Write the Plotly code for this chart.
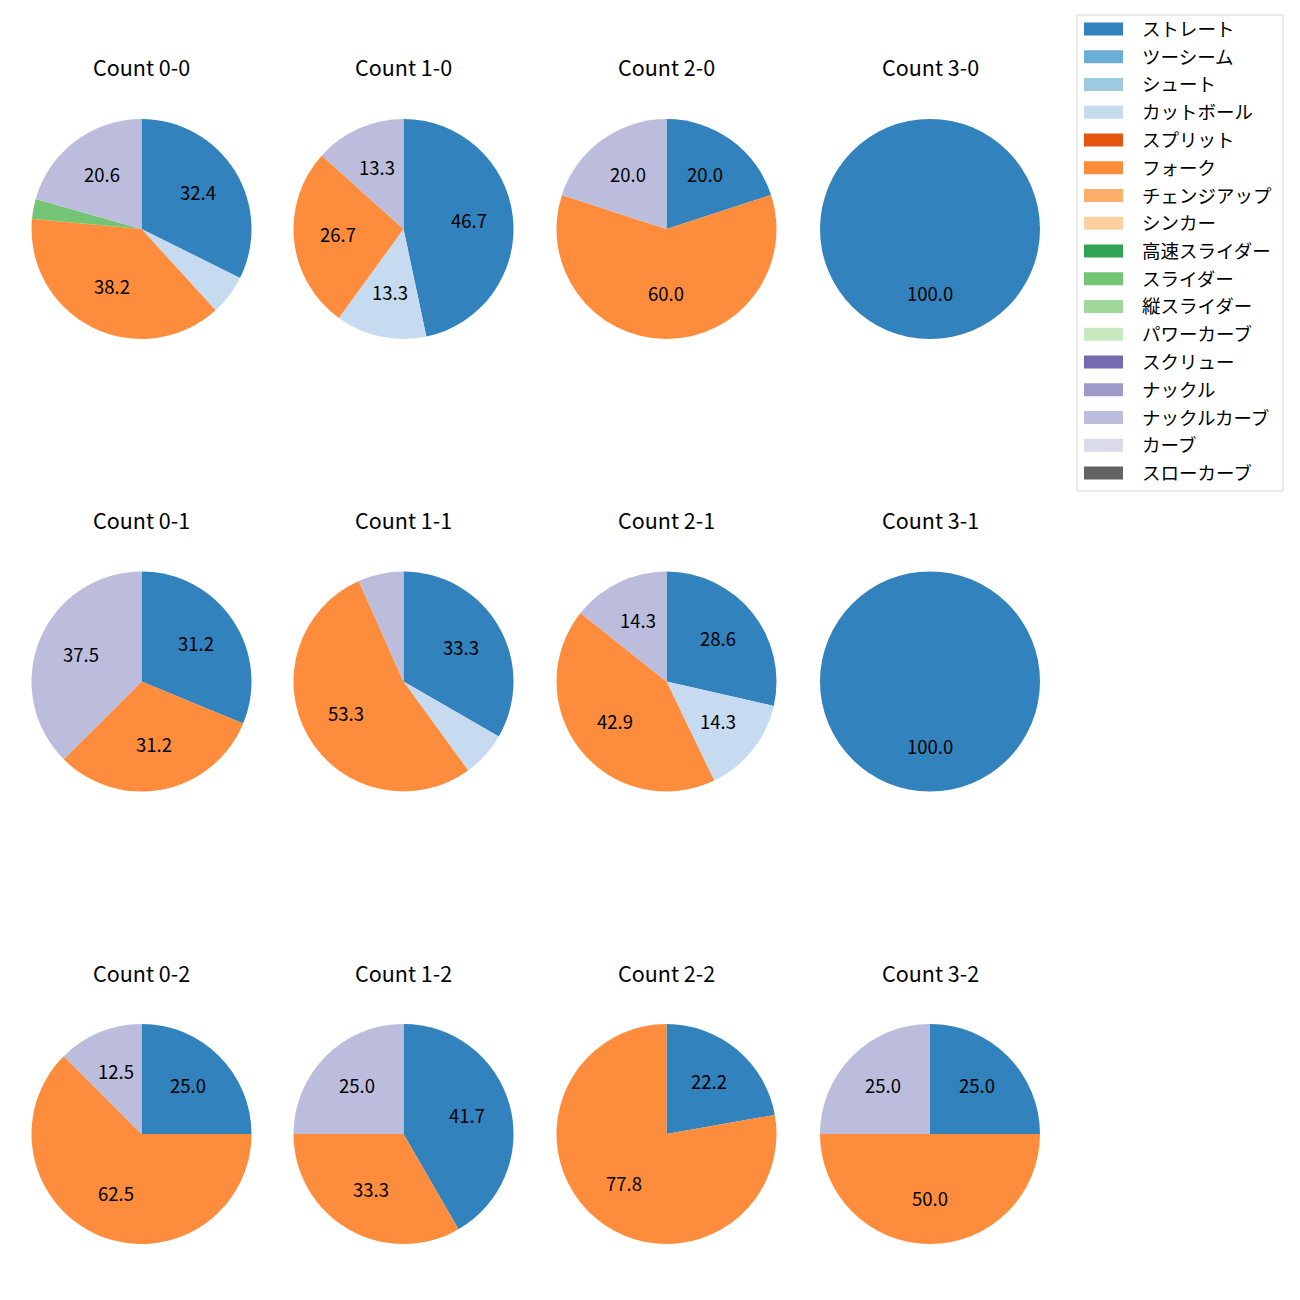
import math
import plotly.graph_objects as go

pitch_types = ["ストレート", "ツーシーム", "シュート", "カットボール", "スプリット", "フォーク",
               "チェンジアップ", "シンカー", "高速スライダー", "スライダー", "縦スライダー",
               "パワーカーブ", "スクリュー", "ナックル", "ナックルカーブ", "カーブ", "スローカーブ"]
colors = ["#3182bd", "#6baed6", "#9ecae1", "#c6dbef", "#e6550d", "#fd8d3c", "#fdae6b",
          "#fdd0a2", "#31a354", "#74c476", "#a1d99b", "#c7e9c0", "#756bb1", "#9e9ac8",
          "#bcbddc", "#dadaeb", "#636363"]

counts = ["0-0", "1-0", "2-0", "3-0",
          "0-1", "1-1", "2-1", "3-1",
          "0-2", "1-2", "2-2", "3-2"]

# pitch counts per situation
c_00 = {"ストレート": 11, "カットボール": 2, "フォーク": 13, "スライダー": 1, "ナックルカーブ": 7}
c_10 = {"ストレート": 7, "カットボール": 2, "フォーク": 4, "ナックルカーブ": 2}
c_20 = {"ストレート": 1, "フォーク": 3, "ナックルカーブ": 1}
c_30 = {"ストレート": 1}
c_01 = {"ストレート": 5, "フォーク": 5, "ナックルカーブ": 6}
c_11 = {"ストレート": 5, "カットボール": 1, "フォーク": 8, "ナックルカーブ": 1}
c_21 = {"ストレート": 2, "カットボール": 1, "フォーク": 3, "ナックルカーブ": 1}
c_31 = {"ストレート": 1}
c_02 = {"ストレート": 2, "フォーク": 5, "ナックルカーブ": 1}
c_12 = {"ストレート": 5, "フォーク": 4, "ナックルカーブ": 3}
c_22 = {"ストレート": 2, "フォーク": 7}
c_32 = {"ストレート": 1, "フォーク": 2, "ナックルカーブ": 1}
data = [c_00, c_10, c_20, c_30, c_01, c_11, c_21, c_31, c_02, c_12, c_22, c_32]

W = H = 1300
OFF = 8  # page body margin
FONT = "Noto Sans CJK JP"
col_cx = [141.5, 403.5, 666.5, 930.0]
row_cy = [229.0, 681.5, 1134.0]
R = 110.0


def px(x):
    return (x - OFF) / W


def py(y):
    return 1 - (y - OFF) / H


fig = go.Figure()
annotations = []
shapes = []
cmap = dict(zip(pitch_types, colors))

for i, (cnt, d) in enumerate(zip(counts, data)):
    r, c = divmod(i, 4)
    cx, cy = col_cx[c], row_cy[r]
    labels = [p for p in pitch_types if p in d]
    values = [d[p] for p in labels]
    fig.add_trace(go.Pie(
        labels=labels, values=values, sort=False, direction="clockwise", rotation=0,
        marker=dict(colors=[cmap[p] for p in labels], line=dict(width=0)),
        textinfo="none", hoverinfo="label+percent", showlegend=False,
        domain=dict(x=[px(cx - R), px(cx + R)], y=[py(cy + R), py(cy - R)]),
    ))
    total = sum(values)
    cum = 0
    for v in values:
        pct = 100 * v / total
        mid = math.radians(90 - 360 * (cum + v / 2) / total)
        cum += v
        if pct < 10:
            continue
        tx = cx + 0.6 * R * math.cos(mid)
        ty = cy - 0.6 * R * math.sin(mid) - 2
        annotations.append(dict(x=px(tx), y=py(ty), xref="paper", yref="paper",
                                xanchor="center", yanchor="middle",
                                text=f"{pct:.1f}", showarrow=False,
                                font=dict(size=18.5, color="black", family=FONT)))
    annotations.append(dict(x=px(cx), y=py(cy - 162), xref="paper", yref="paper",
                            xanchor="center", yanchor="middle",
                            text=f"Count {cnt}", showarrow=False,
                            font=dict(size=21.5, color="black", family=FONT)))

# legend
shapes.append(dict(type="rect", xref="paper", yref="paper",
                   x0=px(1077), x1=px(1283), y0=py(491), y1=py(15),
                   line=dict(color="#d6d6d6", width=1), fillcolor="white"))
for k, (p, col) in enumerate(zip(pitch_types, colors)):
    yc = 29 + 27.75 * k
    shapes.append(dict(type="rect", xref="paper", yref="paper",
                       x0=px(1084), x1=px(1123), y0=py(yc + 6.5), y1=py(yc - 6.5),
                       line=dict(width=0), fillcolor=col))
    annotations.append(dict(x=px(1140), y=py(yc - 1), xref="paper", yref="paper",
                            text=p, showarrow=False, xanchor="left", yanchor="middle",
                            font=dict(size=18.5, color="black", family=FONT)))

fig.update_layout(width=W, height=H, margin=dict(l=0, r=0, t=0, b=0),
                  paper_bgcolor="white", plot_bgcolor="white",
                  annotations=annotations, shapes=shapes, font=dict(family=FONT))
fig.write_html("out.html")
